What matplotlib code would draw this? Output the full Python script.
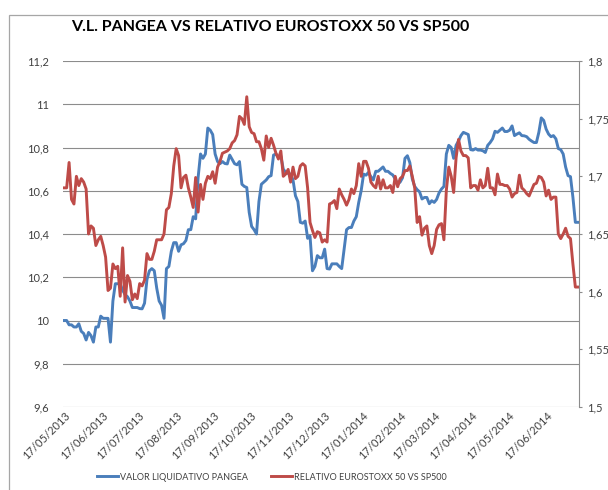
import matplotlib
matplotlib.use("Agg")
import matplotlib.pyplot as plt
from matplotlib.patches import Rectangle
from matplotlib.lines import Line2D
import pandas as pd

plt.rcParams['font.family'] = ['Lato', 'DejaVu Sans']

title = "V.L. PANGEA VS RELATIVO EUROSTOXX 50 VS SP500"
series_names = ["VALOR LIQUIDATIVO PANGEA", "RELATIVO EUROSTOXX 50 VS SP500"]

# observation dates (every second calendar day)
dates = pd.date_range("2013-05-17", periods=212, freq="2D")

valor_liquidativo = [
    10.00, 10.00, 9.98, 9.98, 9.97, 9.97, 9.985, 9.95, 9.94, 9.91, 9.945, 9.93, 9.90,
    9.97, 9.97, 10.02, 10.01, 10.01, 10.01, 9.90, 10.09, 10.17, 10.17, 10.17, 10.14,
    10.12, 10.11, 10.09, 10.06, 10.06, 10.06, 10.055, 10.054, 10.08, 10.19, 10.23,
    10.24, 10.23, 10.15, 10.09, 10.07, 10.01, 10.24, 10.25, 10.32, 10.36, 10.36, 10.32,
    10.35, 10.355, 10.37, 10.42,
    10.42, 10.48, 10.47, 10.66, 10.77, 10.75, 10.77, 10.89, 10.88, 10.86, 10.77, 10.735,
    10.725, 10.735, 10.726, 10.724, 10.765, 10.745, 10.725, 10.72, 10.735, 10.63, 10.62,
    10.615, 10.50, 10.435, 10.42, 10.40, 10.55, 10.63, 10.64, 10.65, 10.665, 10.67,
    10.765, 10.77, 10.755, 10.76, 10.70, 10.685, 10.68, 10.677, 10.65, 10.577, 10.55,
    10.454, 10.45, 10.46, 10.38, 10.39, 10.23, 10.25, 10.30, 10.29,
    10.29, 10.33, 10.24, 10.238, 10.262, 10.262, 10.262, 10.25, 10.24, 10.33, 10.42,
    10.43, 10.43, 10.46, 10.48, 10.546, 10.60, 10.677, 10.672, 10.685, 10.665, 10.65,
    10.69, 10.69, 10.70, 10.71, 10.69, 10.69, 10.68, 10.673, 10.654, 10.631, 10.64,
    10.66, 10.75, 10.762, 10.73, 10.655, 10.62, 10.605, 10.595, 10.562, 10.569, 10.569,
    10.54, 10.554, 10.546, 10.56, 10.59, 10.608, 10.62, 10.77, 10.81,
    10.80, 10.75, 10.81, 10.83, 10.855, 10.87, 10.865, 10.86, 10.79, 10.788, 10.795,
    10.788, 10.788, 10.785, 10.777, 10.81, 10.823, 10.84, 10.875, 10.87, 10.88, 10.89,
    10.874, 10.874, 10.88, 10.90, 10.855, 10.862, 10.868, 10.855, 10.854, 10.85, 10.838,
    10.83, 10.823, 10.823, 10.87, 10.937, 10.925, 10.885, 10.862, 10.85, 10.855, 10.84,
    10.795, 10.79, 10.77, 10.71, 10.67, 10.665, 10.57, 10.454, 10.454,
]

relativo = [
    1.690, 1.690, 1.712, 1.680, 1.676, 1.700, 1.692, 1.698, 1.695, 1.689, 1.650, 1.657,
    1.655, 1.640, 1.645, 1.648, 1.640, 1.630, 1.601, 1.603, 1.624, 1.620, 1.622, 1.596,
    1.638, 1.591, 1.614, 1.609, 1.593, 1.598, 1.594, 1.607, 1.605, 1.610, 1.633, 1.628,
    1.628, 1.635, 1.645, 1.645, 1.645, 1.650, 1.671, 1.673, 1.685, 1.709, 1.724, 1.718,
    1.690, 1.699, 1.701, 1.690,
    1.682, 1.673, 1.699, 1.669, 1.693, 1.680, 1.694, 1.700, 1.698, 1.704, 1.694, 1.708,
    1.713, 1.720, 1.721, 1.722, 1.724, 1.729, 1.731, 1.736, 1.752, 1.750, 1.745, 1.769,
    1.743, 1.738, 1.737, 1.730, 1.730, 1.724, 1.714, 1.735, 1.725, 1.733, 1.727, 1.720,
    1.715, 1.722, 1.700, 1.702, 1.706, 1.695, 1.708, 1.698, 1.700, 1.709, 1.711, 1.709,
    1.690, 1.660, 1.653, 1.647, 1.652, 1.651,
    1.643, 1.645, 1.643, 1.676, 1.677, 1.679, 1.672, 1.689, 1.684, 1.680, 1.675, 1.680,
    1.689, 1.685, 1.692, 1.711, 1.700, 1.713, 1.713, 1.707, 1.695, 1.692, 1.690, 1.700,
    1.689, 1.697, 1.690, 1.690, 1.692, 1.686, 1.700, 1.691, 1.698, 1.700, 1.705, 1.705,
    1.709, 1.700, 1.690, 1.660, 1.665, 1.649, 1.655, 1.657, 1.640, 1.633, 1.640, 1.654,
    1.658, 1.659, 1.645, 1.688, 1.708,
    1.700, 1.686, 1.716, 1.732, 1.722, 1.718, 1.718, 1.716, 1.690, 1.692, 1.692, 1.688,
    1.697, 1.690, 1.692, 1.707, 1.690, 1.690, 1.684, 1.702, 1.693, 1.693, 1.692, 1.692,
    1.689, 1.682, 1.685, 1.686, 1.701, 1.690, 1.688, 1.685, 1.683, 1.688, 1.693, 1.694,
    1.700, 1.699, 1.695, 1.683, 1.688, 1.680, 1.682, 1.682, 1.650, 1.646, 1.650, 1.655,
    1.648, 1.646, 1.624, 1.604, 1.604,
]

left_ticks = [9.6, 9.8, 10.0, 10.2, 10.4, 10.6, 10.8, 11.0, 11.2]
left_labels = ["9,6", "9,8", "10", "10,2", "10,4", "10,6", "10,8", "11", "11,2"]
right_ticks = [1.5, 1.55, 1.6, 1.65, 1.7, 1.75, 1.8]
right_labels = ["1,5", "1,55", "1,6", "1,65", "1,7", "1,75", "1,8"]
x_tick_dates = pd.date_range("2013-05-01", "2014-06-01", freq="MS") + pd.Timedelta(days=16)

BLUE = "#4A7EBB"
RED = "#BE4B48"
GRID = "#8C8C8C"
TXT = "#404040"

W, H = 608, 490
fig = plt.figure(figsize=(W / 100, H / 100), dpi=100)
fig.add_artist(Rectangle((9 / W, -0.1), 1.2, (H - 15) / H + 0.1, transform=fig.transFigure,
                         fill=False, ec="#A6A6A6", lw=0.9))

ax = fig.add_axes([63 / W, 1 - 407 / H, (579 - 63) / W, (407 - 61) / H])
ax2 = ax.twinx()

ax.plot(dates, valor_liquidativo, color=BLUE, lw=2.1, solid_joinstyle="round")
ax2.plot(dates, relativo, color=RED, lw=2.1, solid_joinstyle="round")

ax.set_ylim(9.6, 11.2)
ax2.set_ylim(1.5, 1.8)
ax.set_xlim(dates[0] - pd.Timedelta(days=1), dates[-1] + pd.Timedelta(days=1))

ax.set_yticks(left_ticks)
ax.set_yticklabels(left_labels)
ax2.set_yticks(right_ticks)
ax2.set_yticklabels(right_labels)
ax.grid(axis="y", color=GRID, lw=0.8)
ax.set_axisbelow(True)

ax.set_xticks(x_tick_dates)
ax.set_xticklabels([d.strftime("%d/%m/%Y") for d in x_tick_dates], rotation=45,
                   ha="right", rotation_mode="anchor", fontsize=8, color=TXT)
ax.tick_params(axis="x", length=0, pad=2)
ax.tick_params(axis="y", length=0, labelsize=8, colors=TXT, pad=10)
ax2.tick_params(axis="y", length=2.5, width=0.8, color=GRID, labelsize=8, labelcolor=TXT, pad=3.5)

for a in (ax, ax2):
    for s in ("top", "left", "bottom"):
        a.spines[s].set_visible(False)
ax.spines["right"].set_visible(False)
ax2.spines["right"].set_color(GRID)
ax2.spines["right"].set_linewidth(0.8)

fig.text(270 / W, 1 - 27 / H, title, ha="center", va="center", fontsize=11.5,
         fontweight="bold", color="black")

handles = [Line2D([], [], color=BLUE, lw=2.1), Line2D([], [], color=RED, lw=2.1)]
fig.legend(handles, series_names, loc="center", bbox_to_anchor=(272 / W, 1 - 477 / H),
           ncol=2, frameon=False, fontsize=6.5, handlelength=2.3, handletextpad=0.2,
           columnspacing=2.6, labelcolor=TXT)

fig.savefig("out.png", dpi=100)
